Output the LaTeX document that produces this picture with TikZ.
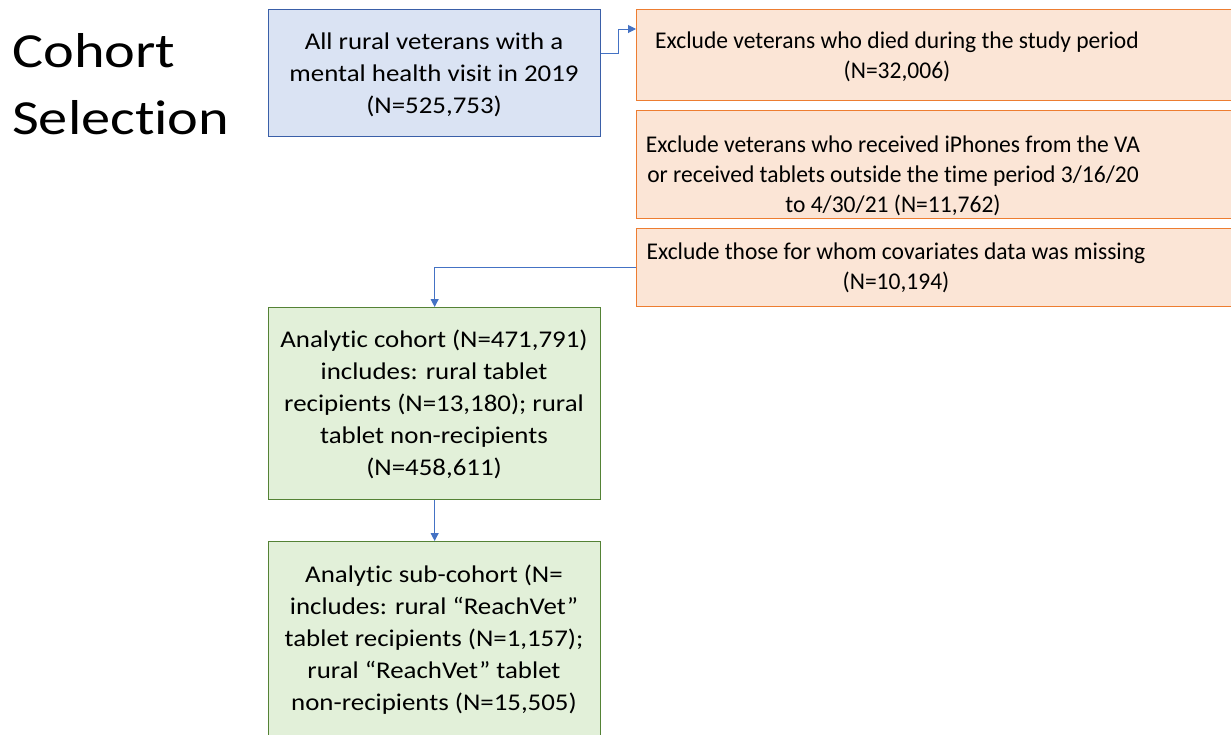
\documentclass[tikz,border=0pt]{standalone}
\usepackage{fontspec}
\setmainfont{Carlito}[Ligatures=NoCommon]
\usetikzlibrary{arrows.meta,calc}
\definecolor{bluefill}{HTML}{DAE3F3}
\definecolor{blueline}{HTML}{3A5FA8}
\definecolor{orfill}{HTML}{FBE5D6}
\definecolor{orline}{HTML}{ED7D31}
\definecolor{grfill}{HTML}{E2F0D9}
\definecolor{grline}{HTML}{548235}
\definecolor{conncol}{HTML}{4472C4}
\newcommand{\sbtext}[2]{\scalebox{#1}[1]{\begin{tabular}{@{}c@{}}#2\end{tabular}}}
\tikzset{
  boxbase/.style={rectangle, anchor=north west, inner sep=0pt, line width=1.3pt},
  bluebox/.style={boxbase, draw=blueline, fill=bluefill},
  orbox/.style={boxbase, draw=orline, fill=orfill},
  grbox/.style={boxbase, draw=grline, fill=grfill},
  boxtext/.style={inner sep=0pt, font=\fontsize{24}{32}\selectfont},
  ortext/.style={inner sep=0pt, font=\fontsize{24}{30}\selectfont},
  titletext/.style={anchor=base west, inner sep=0pt, font=\fontsize{49}{66}\selectfont},
  conn/.style={draw=conncol, line width=1pt, -{Triangle[width=8pt,length=8pt]}}
}
\begin{document}
\begin{tikzpicture}[x=1pt,y=-1pt]
\useasboundingbox (0,0) rectangle (1231,734);
\clip (0,0) rectangle (1231,734);
% title
\node[titletext] (t1) at (12,67) {\scalebox{1.19}[1]{Cohort}};
\node[titletext] (t2) at (12,134) {\scalebox{1.19}[1]{Selection}};
% boxes
\node[bluebox, minimum width=332pt, minimum height=127pt] (blue) at (268,9) {};
\node[boxtext] (bluet) at (434,75) {\sbtext{1.12}{All rural veterans with a\\mental health visit in 2019\\(N=525,753)}};
\node[orbox, minimum width=640pt, minimum height=91pt] (o1) at (636,9) {};
\node[ortext] (o1t) at (897,57) {\sbtext{0.98}{Exclude veterans who died during the study period\\(N=32,006)}};
\node[orbox, minimum width=640pt, minimum height=108pt] (o2) at (636,110) {};
\node[ortext] (o2t) at (893,176) {\sbtext{0.98}{Exclude veterans who received iPhones from the VA\\or received tablets outside the time period 3/16/20\\to 4/30/21 (N=11,762)}};
\node[orbox, minimum width=640pt, minimum height=78pt] (o3) at (636,228) {};
\node[ortext] (o3t) at (896,268) {\sbtext{0.98}{Exclude those for whom covariates data was missing\\(N=10,194)}};
\node[grbox, minimum width=332pt, minimum height=192pt] (g1) at (268,307) {};
\node[boxtext] (g1t) at (434,405) {\sbtext{1.12}{Analytic cohort (N=471,791)\\includes: rural tablet\\recipients (N=13,180); rural\\tablet non-recipients\\(N=458,611)}};
\node[grbox, minimum width=332pt, minimum height=196pt] (g2) at (268,541) {};
\node[boxtext] (g2t) at (434,640) {\sbtext{1.12}{Analytic sub-cohort (N=\\includes: rural “ReachVet”\\tablet recipients (N=1,157);\\rural “ReachVet” tablet\\non-recipients (N=15,505)}};
% connectors
\draw[conn] ([yshift=-44pt]blue.north east) -- ++(17,0) |- ([yshift=-20pt]o1.north west);
\draw[conn] (o3.west) -| (g1.north);
\draw[conn] (g1.south) -- (g2.north);
\end{tikzpicture}
\end{document}
